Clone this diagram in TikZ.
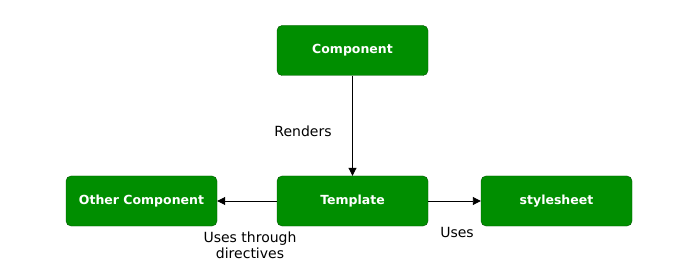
\documentclass[tikz,border=0pt]{standalone}
\usepackage{fontspec}
\setmainfont{DejaVu Sans}
\usetikzlibrary{arrows.meta}
\definecolor{boxfill}{HTML}{008E00}
\definecolor{boxline}{HTML}{005700}
\begin{document}
\begin{tikzpicture}[x=1pt,y=-1pt,
  box/.style={draw=boxline, fill=boxfill, rounded corners=5pt, minimum width=151pt, minimum height=50pt, text=white, font=\bfseries\fontsize{12.5}{15}\selectfont, inner sep=0pt},
  conn/.style={draw=black, line width=0.9pt, -{Triangle[length=8pt,width=8pt]}},
  lbl/.style={font=\fontsize{14}{16}\selectfont, align=center, inner sep=0pt}]
\useasboundingbox (0,0) rectangle (700,280);
\node[box] (comp) at (352.5,50.5) {Component};
\node[box] (other) at (141.5,201) {Other Component};
\node[box] (tmpl) at (352.5,201) {Template};
\node[box] (style) at (556.5,201) {stylesheet};
\draw[conn] (comp) -- (tmpl);
\draw[conn] (tmpl) -- (other);
\draw[conn] (tmpl) -- (style);
\node[lbl] (lr) at (303,131) {Renders};
\node[lbl] (lu) at (250,245) {Uses through\\directives};
\node[lbl] (ls) at (457,232) {Uses};
\end{tikzpicture}
\end{document}
